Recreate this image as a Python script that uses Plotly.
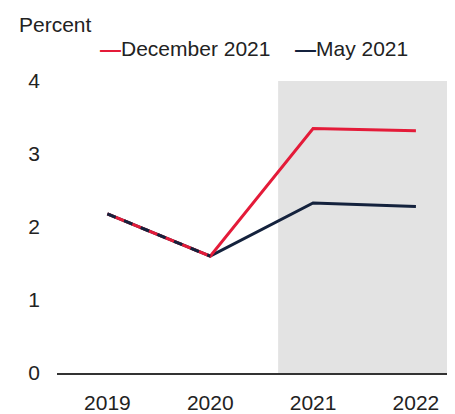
import plotly.graph_objects as go

years = ["2019", "2020", "2021", "2022"]
dec_2021 = [2.18, 1.6, 3.35, 3.32]
may_2021 = [2.18, 1.6, 2.33, 2.28]
y_ticks = [0, 1, 2, 3, 4]

RED = "#e41b39"
NAVY = "#14223d"
FONT = "Liberation Sans, Arial, sans-serif"
FS = 21

xi = list(range(len(years)))

fig = go.Figure()
fig.add_trace(go.Scatter(x=xi, y=may_2021, mode="lines", line=dict(color=NAVY, width=3),
                         name="May 2021", showlegend=False))
fig.add_trace(go.Scatter(x=xi, y=dec_2021, mode="lines", line=dict(color=RED, width=3),
                         name="December 2021", showlegend=False))
# overlapping segment shown as alternating colours
fig.add_trace(go.Scatter(x=xi[:2], y=may_2021[:2], mode="lines",
                         line=dict(color=NAVY, width=3, dash="dash"),
                         showlegend=False, hoverinfo="skip"))

fig.add_shape(type="rect", xref="x", yref="y", x0=1.66, x1=3.31, y0=0, y1=4,
              fillcolor="#e3e3e3", line=dict(width=0), layer="below")

PW, PH, PL, PB = 398, 292, 57, 373  # plot area geometry in page pixels


def px(x):
    return (x - PL) / PW


def py(y):
    return (PB - y) / PH


fig.add_annotation(xref="paper", yref="paper", x=px(17), y=py(24), xanchor="left", yanchor="middle",
                   text="Percent", showarrow=False, font=dict(size=FS, color="#222"))
fig.add_annotation(xref="paper", yref="paper", x=px(98), y=py(48), xanchor="left", yanchor="middle",
                   text=f"<span style='color:{RED}'><b>—</b></span>December 2021", showarrow=False,
                   font=dict(size=FS, color="#222"))
fig.add_annotation(xref="paper", yref="paper", x=px(293), y=py(48), xanchor="left", yanchor="middle",
                   text=f"<span style='color:{NAVY}'><b>—</b></span>May 2021", showarrow=False,
                   font=dict(size=FS, color="#222"))

# page body has an 8px margin; compensate so the plot lands where the reference has it
fig.update_layout(
    width=447, height=406,
    margin=dict(l=49, r=0, t=73, b=41, autoexpand=False),
    plot_bgcolor="white", paper_bgcolor="white",
    font=dict(family=FONT, size=FS, color="#222"),
    xaxis=dict(range=[-0.49, 3.38], tickvals=xi, ticktext=years, showgrid=False,
               zeroline=False, showline=True, linecolor="#333", linewidth=2,
               ticks="", ticklabelstandoff=10, automargin=False),
    yaxis=dict(range=[0, 4], tickvals=y_ticks, showgrid=False, zeroline=False,
               showline=False, ticks="", ticklabelstandoff=16, automargin=False),
)

fig.write_html("out.html")
